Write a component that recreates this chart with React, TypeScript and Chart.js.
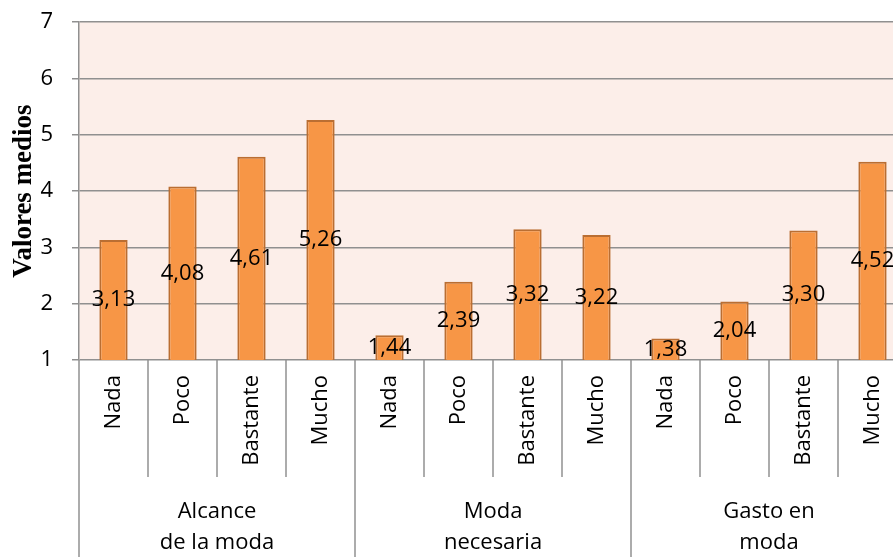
import React, { useEffect, useRef } from "react";
import { Chart, registerables } from "chart.js";

Chart.register(...registerables);

const categories = ["Nada", "Poco", "Bastante", "Mucho", "Nada", "Poco", "Bastante", "Mucho", "Nada", "Poco", "Bastante", "Mucho"];
const groupLabels = [["Alcance", "de la moda"], ["Moda", "necesaria"], ["Gasto en", "moda"]];
const groupSizes = [4, 4, 4];
const values = [3.13, 4.08, 4.61, 5.26, 1.44, 2.39, 3.32, 3.22, 1.38, 2.04, 3.30, 4.52];
const yMin = 1;
const yMax = 7;
const yTitle = "Valores medios";

const FONT = "'Open Sans', 'Noto Sans', sans-serif";
const GRID = "#909090";

const bgPlugin = {
  id: "plotBg",
  beforeDraw(chart: any) {
    const { ctx, chartArea } = chart;
    ctx.save();
    ctx.fillStyle = "#FCEEE9";
    ctx.fillRect(chartArea.left, chartArea.top, chartArea.right - chartArea.left, chartArea.bottom - chartArea.top);
    ctx.restore();
  },
};

const labelPlugin = {
  id: "valueLabels",
  afterDatasetsDraw(chart: any) {
    const { ctx } = chart;
    const ys = chart.scales.y;
    const meta = chart.getDatasetMeta(0);
    ctx.save();
    ctx.font = `22px ${FONT}`;
    ctx.fillStyle = "#000";
    ctx.textAlign = "center";
    ctx.textBaseline = "middle";
    meta.data.forEach((el: any, i: number) => {
      const v = values[i];
      const y = ys.getPixelForValue((v + yMin) / 2);
      ctx.fillText(v.toFixed(2).replace(".", ","), el.x, y);
    });
    ctx.restore();
  },
};

const xAxisPlugin = {
  id: "multiAxis",
  afterDraw(chart: any) {
    const { ctx, chartArea } = chart;
    const xs = chart.scales.x;
    const bottom = chartArea.bottom;
    const H = chart.height;
    const step = xs.getPixelForValue(1) - xs.getPixelForValue(0);
    const boundary = (i: number) => xs.getPixelForValue(i) - step / 2;
    ctx.save();
    ctx.strokeStyle = GRID;
    ctx.lineWidth = 1.5;
    const groupEdges: number[] = [0];
    groupSizes.forEach((s) => groupEdges.push(groupEdges[groupEdges.length - 1] + s));
    for (let i = 0; i <= categories.length; i++) {
      const px = Math.round(boundary(i));
      const isGroup = groupEdges.includes(i);
      ctx.beginPath();
      ctx.moveTo(px, bottom);
      ctx.lineTo(px, isGroup ? H : bottom + 117);
      ctx.stroke();
    }
    ctx.fillStyle = "#000";
    ctx.font = `22px ${FONT}`;
    categories.forEach((c, i) => {
      const px = xs.getPixelForValue(i);
      ctx.save();
      ctx.translate(px, bottom + 15);
      ctx.rotate(-Math.PI / 2);
      ctx.textAlign = "right";
      ctx.textBaseline = "middle";
      ctx.fillText(c, 0, 0);
      ctx.restore();
    });
    ctx.textAlign = "center";
    ctx.textBaseline = "middle";
    groupLabels.forEach((lines, g) => {
      const cx = (boundary(groupEdges[g]) + boundary(groupEdges[g + 1])) / 2;
      lines.forEach((ln, k) => {
        ctx.fillText(ln, cx, bottom + 152 + k * 31);
      });
    });
    ctx.restore();
  },
};

export default function App() {
  const ref = useRef<HTMLCanvasElement>(null);
  useEffect(() => {
    document.body.style.margin = "0";
    document.body.style.overflow = "hidden";
    const chart = new Chart(ref.current!, {
      type: "bar",
      data: {
        labels: categories,
        datasets: [
          {
            data: values,
            backgroundColor: "#F79646",
            borderColor: "#BA6E32",
            borderWidth: 2,
            barPercentage: 0.41,
            categoryPercentage: 1,
          },
        ],
      },
      options: {
        animation: false,
        responsive: true,
        maintainAspectRatio: false,
        layout: { padding: { top: 22, bottom: 197, right: 3, left: 0 } },
        plugins: { legend: { display: false }, tooltip: { enabled: false } },
        scales: {
          x: { display: false, offset: true },
          y: {
            min: yMin,
            max: yMax,
            afterFit(scale: any) {
              scale.width = 79;
              scale.paddingTop = 0;
              scale.paddingBottom = 0;
            },
            ticks: { stepSize: 1, color: "#000", font: { family: FONT, size: 22 }, padding: 19 },
            grid: { color: GRID, lineWidth: 1.5, tickLength: 7 },
            border: { color: GRID, width: 1.5 },
            title: {
              display: true,
              text: yTitle,
              color: "#000",
              font: { family: "'Liberation Serif', 'Times New Roman', serif", size: 27, weight: "bold" },
              padding: { top: 8, bottom: 0 },
            },
          },
        },
      },
      plugins: [bgPlugin, labelPlugin, xAxisPlugin],
    });
    return () => chart.destroy();
  }, []);
  return (
    <div style={{ position: "fixed", left: 0, top: 0, width: 893, height: 557, overflow: "hidden" }}>
      <div style={{ position: "relative", width: 910, height: 557 }}>
        <canvas ref={ref} />
      </div>
    </div>
  );
}
